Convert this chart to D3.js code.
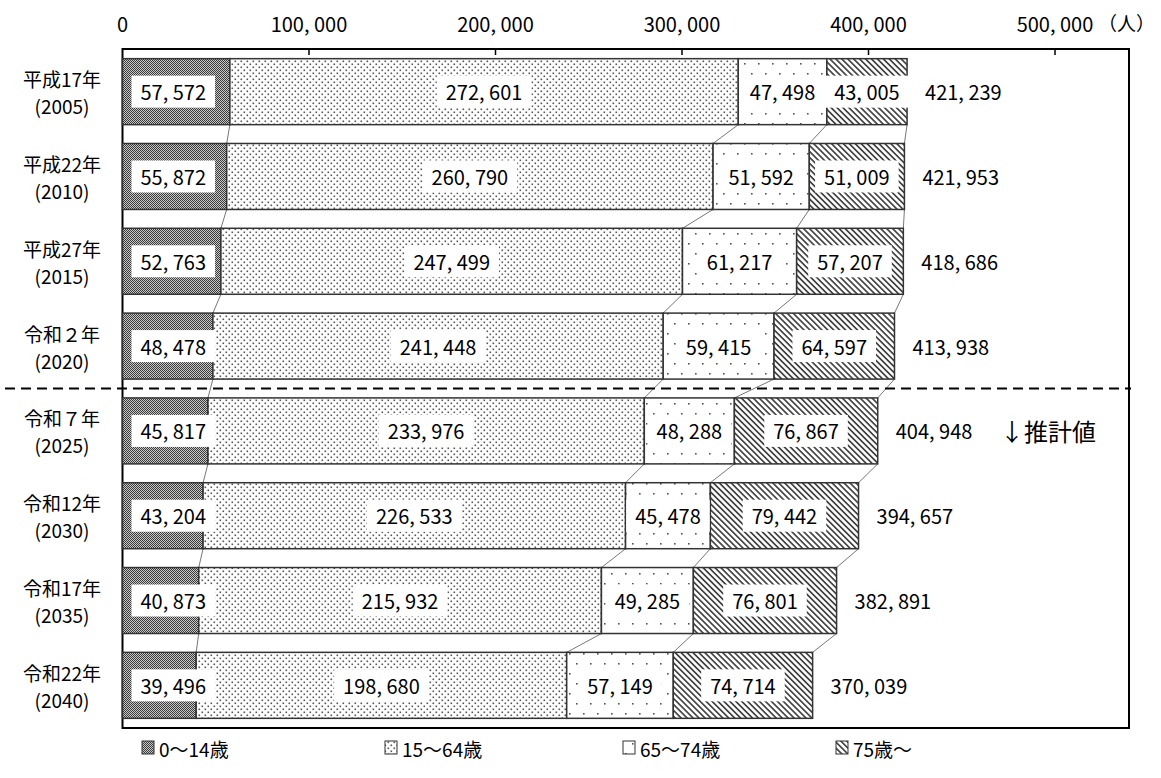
<!DOCTYPE html>
<html><head><meta charset="utf-8">
<script src="https://cdn.jsdelivr.net/npm/d3@7"></script>
<style>
body{margin:0;background:#fff;}
svg text{font-family:"Noto Sans CJK JP","Noto Sans",sans-serif;fill:#000;}
</style></head>
<body><svg id="c" width="1161" height="778"></svg>
<script>
const years = ["平成17年","平成22年","平成27年","令和２年","令和７年","令和12年","令和17年","令和22年"];
const yearsAD = ["(2005)","(2010)","(2015)","(2020)","(2025)","(2030)","(2035)","(2040)"];
const seriesNames = ["0〜14歳","15〜64歳","65〜74歳","75歳〜"];
const age0_14  = [57572,55872,52763,48478,45817,43204,40873,39496];
const age15_64 = [272601,260790,247499,241448,233976,226533,215932,198680];
const age65_74 = [47498,51592,61217,59415,48288,45478,49285,57149];
const age75    = [43005,51009,57207,64597,76867,79442,76801,74714];
const totals   = [421239,421953,418686,413938,404948,394657,382891,370039];
const xTicks   = [0,100000,200000,300000,400000,500000];

const svg = d3.select("#c");
const fmt = v => d3.format(",")(v).replace(/,/g, ", ");
const series = [age0_14, age15_64, age65_74, age75];

const L = 122.5, R = 1129, T = 49, B = 728;
const x = d3.scaleLinear().domain([0,500000]).range([L, 1055]);
const y = d3.scaleBand().domain(years).range([T, B]).paddingInner(0.222).paddingOuter(0.114);

// patterns
const defs = svg.append("defs");
const p0 = defs.append("pattern").attr("id","p0").attr("width",2).attr("height",2).attr("patternUnits","userSpaceOnUse");
p0.append("rect").attr("width",2).attr("height",2).attr("fill","#c8c8c8");
p0.append("rect").attr("width",1).attr("height",1).attr("fill","#3a3a3a");
p0.append("rect").attr("x",1).attr("y",1).attr("width",1).attr("height",1).attr("fill","#3a3a3a");
const p1 = defs.append("pattern").attr("id","p1").attr("width",6).attr("height",6).attr("patternUnits","userSpaceOnUse");
p1.append("rect").attr("width",6).attr("height",6).attr("fill","#fff");
p1.append("rect").attr("x",0.5).attr("y",0.5).attr("width",1.6).attr("height",1.6).attr("fill","#555");
p1.append("rect").attr("x",3.5).attr("y",3.5).attr("width",1.6).attr("height",1.6).attr("fill","#555");
const p2 = defs.append("pattern").attr("id","p2").attr("width",14).attr("height",20).attr("patternUnits","userSpaceOnUse");
p2.append("rect").attr("width",14).attr("height",20).attr("fill","#fff");
p2.append("rect").attr("x",2).attr("y",3).attr("width",1.6).attr("height",1.6).attr("fill","#555");
p2.append("rect").attr("x",9).attr("y",13).attr("width",1.6).attr("height",1.6).attr("fill","#555");
const p3 = defs.append("pattern").attr("id","p3").attr("width",4.2).attr("height",4.2).attr("patternUnits","userSpaceOnUse").attr("patternTransform","rotate(45)");
p3.append("rect").attr("width",4.2).attr("height",4.2).attr("fill","#fff");
p3.append("rect").attr("width",4.2).attr("height",1.7).attr("fill","#444");
const fills = ["url(#p0)","url(#p1)","url(#p2)","url(#p3)"];

// frame
svg.append("rect").attr("x",L).attr("y",T).attr("width",R-L).attr("height",B-T)
  .attr("fill","none").attr("stroke","#000").attr("stroke-width",2);

// ticks (inside, top)
svg.selectAll(".tick").data(xTicks.slice(1)).join("line")
  .attr("x1",d=>x(d)).attr("x2",d=>x(d)).attr("y1",T).attr("y2",T+6)
  .attr("stroke","#000").attr("stroke-width",1.5);
svg.selectAll(".tl").data(xTicks).join("text")
  .attr("x",d=>x(d)).attr("y",32).attr("text-anchor","middle")
  .attr("font-size",20).text(d=>fmt(d));
svg.append("text").attr("x",1098).attr("y",31).attr("font-size",19).text("（人）");

// stacked data
const stacks = years.map((yr,i)=>{
  let c=0; return series.map((s,k)=>{const x0=c; c+=s[i]; return {i,k,x0,x1:c,v:s[i],yr};});
});
const flat = stacks.flat();

// connector lines
for(let i=0;i<years.length-1;i++){
  for(let k=0;k<4;k++){
    const a = stacks[i][k].x1, b = stacks[i+1][k].x1;
    svg.append("line").attr("x1",x(a)).attr("y1",y(years[i])+y.bandwidth())
      .attr("x2",x(b)).attr("y2",y(years[i+1]))
      .attr("stroke","#777").attr("stroke-width",1);
  }
}

// bars
svg.selectAll(".seg").data(flat).join("rect")
  .attr("x",d=>x(d.x0)).attr("y",d=>y(d.yr))
  .attr("width",d=>x(d.x1)-x(d.x0)).attr("height",y.bandwidth())
  .attr("fill",d=>fills[d.k]).attr("stroke","#333").attr("stroke-width",1.5);

// segment labels
const lg = svg.append("g");
flat.forEach(d=>{
  const cy = y(d.yr)+y.bandwidth()/2;
  const g = lg.append("g");
  const t = g.append("text").attr("font-size",20).attr("text-anchor","middle")
    .attr("dominant-baseline","central").text(fmt(d.v));
  const w = t.node().getComputedTextLength();
  let cx = d.k===0 ? x(d.x0)+9+ (w+18)/2 : (x(d.x0)+x(d.x1))/2;
  t.attr("x",cx).attr("y",cy);
  g.insert("rect","text").attr("x",cx-w/2-9).attr("y",cy-16).attr("width",w+18).attr("height",32).attr("fill","#fff");
});

// totals
svg.selectAll(".tot").data(years).join("text")
  .attr("x",(d,i)=>x(stacks[i][3].x1)+18).attr("y",d=>y(d)+y.bandwidth()/2)
  .attr("dominant-baseline","central").attr("font-size",20).text((d,i)=>fmt(totals[i]));

// category labels
svg.selectAll(".cat").data(years).join("text")
  .attr("x",62).attr("y",d=>y(d)+y.bandwidth()/2-13).attr("text-anchor","middle")
  .attr("dominant-baseline","central").attr("font-size",19).text(d=>d);
svg.selectAll(".cat2").data(yearsAD).join("text")
  .attr("x",62).attr("y",(d,i)=>y(years[i])+y.bandwidth()/2+14).attr("text-anchor","middle")
  .attr("dominant-baseline","central").attr("font-size",19).text(d=>d);

// dashed divider
const dy = (y(years[3])+y.bandwidth()+y(years[4]))/2;
svg.append("line").attr("x1",5).attr("x2",1131).attr("y1",dy).attr("y2",dy)
  .attr("stroke","#000").attr("stroke-width",2).attr("stroke-dasharray","10,6");
svg.append("text").attr("x",1000).attr("y",y(years[4])+y.bandwidth()/2)
  .attr("dominant-baseline","central").attr("font-size",24).text("↓推計値");

// legend
const legX = [142,385,623,836];
seriesNames.forEach((n,k)=>{
  svg.append("rect").attr("x",legX[k]).attr("y",741).attr("width",12).attr("height",13)
    .attr("fill",fills[k]).attr("stroke","#333").attr("stroke-width",1);
  svg.append("text").attr("x",legX[k]+17).attr("y",748).attr("dominant-baseline","central")
    .attr("font-size",19).text(n);
});
</script></body></html>
